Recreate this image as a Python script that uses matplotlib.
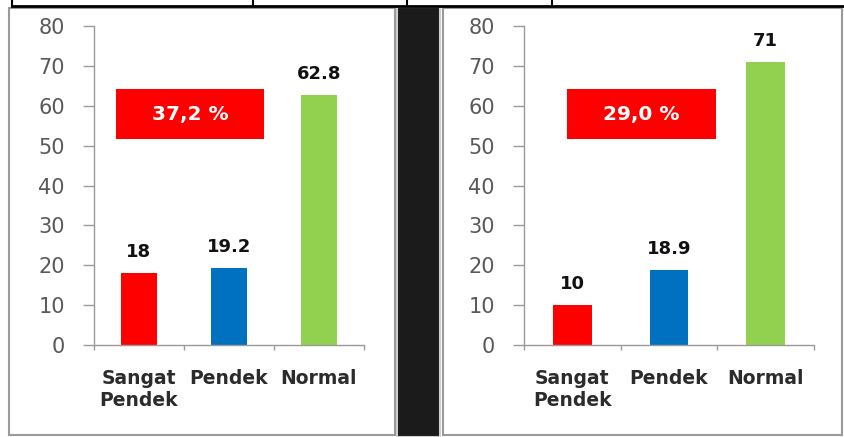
import matplotlib
matplotlib.use("Agg")
import matplotlib.pyplot as plt
from matplotlib.patches import Rectangle
from matplotlib.lines import Line2D
import numpy as np

# Data
categories = ["Sangat\nPendek", "Pendek", "Normal"]
values_left = [18, 19.2, 62.8]
values_right = [10, 18.9, 71]
value_labels_left = ["18", "19.2", "62.8"]
value_labels_right = ["10", "18.9", "71"]
summary_left = "37,2 %"
summary_right = "29,0 %"
bar_colors = ["#FF0000", "#0070C0", "#92D050"]
y_ticks = [0, 10, 20, 30, 40, 50, 60, 70, 80]

W, H = 844, 437
fig = plt.figure(figsize=(W / 100, H / 100), dpi=100)
fig.patch.set_facecolor("white")


def fx(px):
    return px / W


def fy(py):
    return 1 - py / H


# Frame pieces around the two panels
fig.add_artist(Rectangle((fx(397), fy(437)), fx(43), fy(7) - fy(437),
                         transform=fig.transFigure, facecolor="#1b1b1b",
                         edgecolor="#cfcfcf", linewidth=1.5, zorder=0))
for x0, x1 in [(9, 395), (443, 842)]:
    fig.add_artist(Rectangle((fx(x0), fy(435)), fx(x1 - x0), fy(8) - fy(435),
                             transform=fig.transFigure, facecolor="white",
                             edgecolor="#9a9a9a", linewidth=1.5, zorder=0))
fig.add_artist(Line2D([fx(12), fx(844)], [fy(5.5), fy(5.5)],
                      transform=fig.transFigure, color="black", linewidth=2))
for xv in [12, 253, 407, 552]:
    fig.add_artist(Line2D([fx(xv), fx(xv)], [fy(0), fy(5.5)],
                          transform=fig.transFigure, color="black", linewidth=1.5))


def panel(left_px, right_px, values, vlabels, summary, box_x):
    ax = fig.add_axes([fx(left_px), fy(345), fx(right_px - left_px), fy(26) - fy(345)])
    x = np.arange(len(categories))
    ax.bar(x, values, width=0.4, color=bar_colors, zorder=2)
    for xi, v, lab in zip(x, values, vlabels):
        ax.text(xi, v + 3.0, lab, ha="center", va="bottom", fontsize=13,
                fontweight="bold", color="#111111", family="DejaVu Sans")
    ax.add_patch(Rectangle((box_x[0], 51.6), box_x[1] - box_x[0], 12.6,
                           facecolor="#FF0000", edgecolor="none", zorder=3))
    ax.text((box_x[0] + box_x[1]) / 2, 57.9, summary, ha="center", va="center",
            fontsize=14.5, fontweight="bold", color="white", zorder=4,
            family="DejaVu Sans")
    ax.set_xlim(-0.5, 2.5)
    ax.set_ylim(0, 80)
    ax.set_yticks(y_ticks)
    ax.tick_params(axis="y", direction="out", length=8, width=1, color="#9a9a9a",
                   labelsize=15, labelcolor="#595959", pad=13)
    ax.set_xticks(x)
    ax.set_xticklabels(categories, fontsize=13.5, fontweight="semibold",
                       color="#2b2b2b", linespacing=1.25)
    ax.tick_params(axis="x", which="major", length=0, pad=17)
    ax.set_xticks([-0.5, 0.5, 1.5, 2.5], minor=True)
    ax.tick_params(axis="x", which="minor", direction="out", length=3.5,
                   width=1, color="#9a9a9a")
    for s in ["top", "right"]:
        ax.spines[s].set_visible(False)
    for s in ["left", "bottom"]:
        ax.spines[s].set_color("#9a9a9a")
        ax.spines[s].set_linewidth(1)
    ax.patch.set_alpha(0)
    return ax


panel(94, 364, values_left, value_labels_left, summary_left, (-0.256, 1.389))
panel(524, 814, values_right, value_labels_right, summary_right, (-0.055, 1.486))

fig.savefig("out.png", dpi=100)
